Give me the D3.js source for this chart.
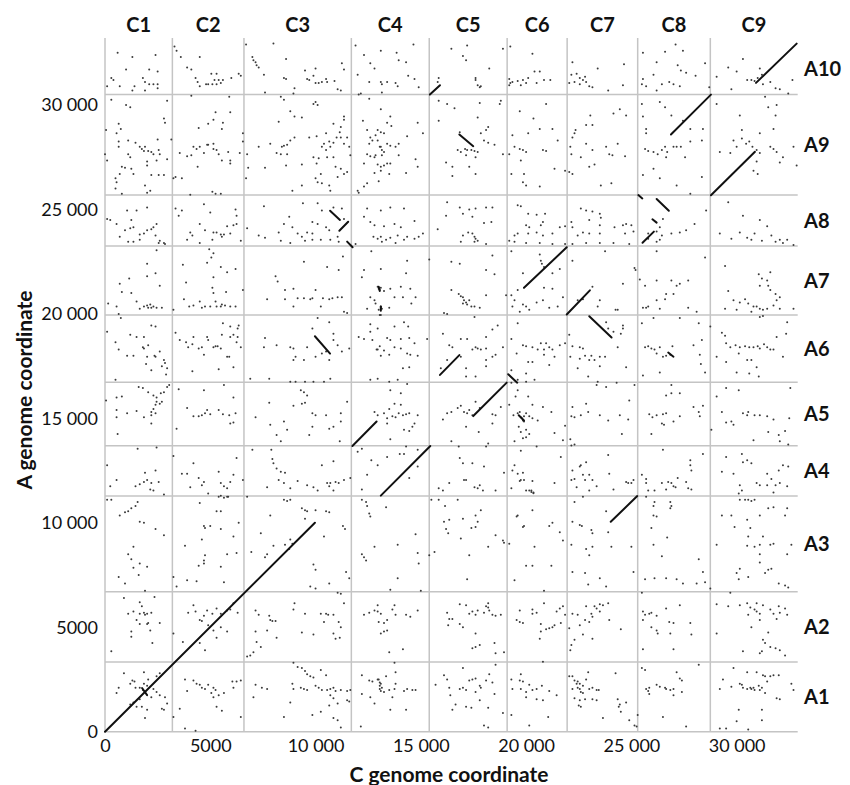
<!DOCTYPE html>
<html><head><meta charset="utf-8">
<script src="https://cdn.jsdelivr.net/npm/d3@7"></script>
<style>html,body{margin:0;padding:0;background:#fff}</style>
</head><body><svg id="chart" width="850" height="785"></svg>
<script>
// ---------------- DATA ----------------
const cChromosomes = ["C1","C2","C3","C4","C5","C6","C7","C8","C9"];
const cBounds = [0,3200,6600,11700,15400,19100,21950,25300,28750,32900];
const aChromosomes = ["A1","A2","A3","A4","A5","A6","A7","A8","A9","A10"];
const aBounds = [0,3340,6700,11280,13690,16730,19950,23250,25690,30510,32970];
const xTickValues = [0,5000,10000,15000,20000,25000,30000];
const xTickLabels = ["0","5000","10 000","15 000","20 000","25 000","30 000"];
const yTickValues = [0,5000,10000,15000,20000,25000,30000];
const yTickLabels = ["0","5000","10 000","15 000","20 000","25 000","30 000"];
const UNIT = 1000; // blocks and dots below are given in thousands of C / A coordinate units

// syntenic blocks: [C start, A start, C end, A end]
const syntenyBlocks = [
 [0,0,9.97,10.0],[1.76,2.09,2.0,1.75],
 [11.75,13.68,12.9,14.85],[13.1,11.3,15.45,13.68],
 [17.49,15.11,19.08,16.71],[19.15,17.11,19.58,16.71],[15.91,17.08,16.83,18.03],
 [23.0,19.89,24.06,18.87],[21.93,19.97,23.03,21.13],[19.9,21.25,21.93,23.19],
 [9.97,18.93,10.69,18.1],
 [10.69,24.94,11.16,24.5],[11.13,23.98,11.55,24.41],[11.5,23.46,11.76,23.19],
 [25.33,25.69,25.52,25.53],[26.2,25.5,26.78,24.94],[26.0,24.53,26.2,24.37],[25.53,23.41,26.07,23.94],
 [15.43,30.5,15.91,30.95],[16.83,28.59,17.49,28.03],
 [26.88,28.59,28.78,30.5],[28.78,25.68,30.87,27.76],[30.92,31.06,32.85,32.94],
 [24.02,10.05,25.28,11.28],
 [26.75,18.15,27.0,17.95],[13.0,21.3,13.05,21.1],[13.1,20.35,13.1,20.15],[19.65,15.15,19.9,14.9]
];

const dotsA10 = [
 [0.6,32.5],[1.3,32.3],[2.4,32.4],[1.0,31.7],[2.1,31.7],[0.3,31.3],[0.4,31.2],[1.8,31.3],[1.9,31.1],[2.1,31.0],[2.3,31.0],[2.5,31.0],[0.7,30.9],[1.4,30.9],[1.3,30.7],[1.9,30.7],[2.5,30.8],[2.5,31.6],[0.1,30.9],
 [3.3,32.8],[3.4,32.6],[3.6,32.3],[4.5,32.3],[3.9,31.8],[4.1,31.7],[4.3,31.3],[4.4,31.1],[4.8,31.0],[4.9,31.0],[5.1,31.0],[5.3,31.0],[5.5,31.05],[5.6,31.2],[6.0,31.3],[6.35,31.5],[6.45,31.4],[5.05,31.5],[5.3,31.5],[4.5,30.9],[5.2,31.2],[5.4,31.2],
 [6.7,32.9],[8.0,32.95],[7.0,32.3],[7.05,32.15],[7.15,32.05],[7.2,31.9],[7.3,31.8],[7.55,31.45],[8.6,32.2],[8.5,31.3],[8.6,31.25],[9.5,31.65],[10.0,31.75],[9.6,31.25],[9.7,31.2],[9.9,31.4],[10.0,31.05],[10.15,31.05],[10.3,31.1],[10.5,31.25],[10.55,31.1],[10.9,31.15],[11.25,32.0],[11.35,31.7],[11.05,30.75],[11.2,30.7],[9.0,30.8],[7.6,30.6],
 [11.9,32.85],[12.3,32.4],[13.1,32.6],[13.85,32.5],[14.65,32.9],[12.6,32.0],[12.8,31.75],[14.3,32.05],[12.0,31.45],[14.4,31.4],[14.7,31.25],[12.55,31.1],[13.1,31.1],[13.15,31.0],[13.4,31.1],[13.8,31.05],[13.9,30.9],[14.9,30.85],[13.15,30.6],[12.15,30.55],[13.95,32.15],
 [16.45,32.7],[17.2,32.85],[17.0,32.35],[17.15,32.15],[18.9,32.7],[18.25,31.75],[15.85,31.3],[15.8,31.1],[17.6,31.3],[17.7,30.95],[17.8,30.85],[17.85,30.9],[17.6,31.2],
 [19.25,32.8],[20.3,32.45],[19.2,31.25],[19.25,31.05],[19.2,30.95],[19.35,31.1],[19.6,31.15],[19.85,31.2],[20.1,31.3],[20.0,31.05],[20.4,31.6],[20.65,31.6],[20.85,31.2],[21.15,31.2],[19.75,30.95],[20.5,31.05],
 [22.2,32.05],[23.4,31.75],[24.65,31.95],[22.15,31.45],[22.4,31.5],[22.55,31.3],[22.7,31.2],[22.85,31.1],[23.0,30.9],[23.15,30.85],[22.3,31.1],[22.55,31.0],[22.8,31.35],[23.9,30.7],[24.6,30.95],[22.05,31.05],
 [25.55,32.5],[26.2,32.05],[26.6,32.55],[27.1,32.9],[27.45,32.6],[27.2,31.9],[27.35,31.65],[27.6,31.55],[28.5,32.0],[25.55,31.25],[25.5,31.0],[25.7,30.9],[26.05,31.45],[26.8,31.1],[27.0,31.0],[27.3,30.9],[28.05,31.4],[28.7,30.85],[26.45,31.0],[26.2,30.7],
 [29.6,31.8],[30.3,32.2],[30.0,31.6],[30.5,31.2],[30.7,31.2],[30.85,31.15],[31.0,31.3],[31.1,31.75],[31.25,31.0],[31.6,31.1],[31.85,30.8],[32.05,30.75],[32.45,30.55],[32.65,31.2],[29.75,30.75],[29.05,31.35],[31.2,31.45]
];
const dotsA9 = [
 [0.3,30.25],[1.0,30.0],[1.2,29.9],[2.95,30.2],[2.8,29.35],[2.85,29.15],[0.65,29.1],[0.75,28.85],[0.05,28.8],[0.55,28.65],[0.0,27.65],[0.1,27.35],[0.65,28.25],[0.65,28.0],[1.1,28.3],[1.45,28.2],[1.65,28.0],[1.75,27.9],[1.85,27.8],[1.9,28.0],[2.05,27.8],[2.2,27.75],[2.3,27.65],[2.55,27.85],[2.6,27.65],[1.1,27.65],[1.2,27.5],[2.0,27.3],[2.45,27.35],[2.95,27.4],[2.5,28.35],[3.15,28.35],[0.8,27.05],[0.95,27.0],[1.25,26.95],[1.35,26.7],[2.0,27.1],[2.2,26.65],[2.55,26.65],[2.8,26.65],[0.5,26.5],[0.55,26.3],[0.7,26.7],[0.5,26.0],[0.8,25.75],[1.9,26.15],[2.0,25.8],[2.15,25.9],
 [4.1,30.45],[4.45,28.9],[4.9,29.1],[5.15,29.3],[5.25,29.65],[5.95,29.65],[5.6,29.15],[5.55,28.85],[5.9,30.4],[6.55,28.65],[3.55,27.7],[3.9,27.55],[4.1,27.6],[4.2,28.0],[4.35,27.9],[4.5,28.0],[4.7,27.7],[4.9,28.1],[5.15,28.15],[5.15,27.9],[5.3,27.85],[5.4,27.65],[5.55,27.35],[5.95,27.35],[5.95,27.2],[5.85,27.75],[6.4,27.7],[4.4,27.05],[3.35,26.55],[3.65,26.5],[3.25,26.5],[4.05,25.7],[5.1,25.85],[5.25,25.75],[5.5,25.75],[6.55,28.25],[4.85,28.1],
 [8.35,30.4],[8.5,30.25],[8.95,30.55],[10.0,30.15],[10.1,30.0],[9.9,30.05],[8.8,29.7],[9.0,29.45],[9.35,29.4],[8.25,29.2],[11.35,29.45],[11.35,29.3],[11.2,28.95],[11.15,28.7],[10.85,29.1],[10.5,28.65],[9.7,28.45],[10.05,28.5],[9.0,28.45],[8.8,28.3],[8.65,28.1],[8.5,28.05],[8.4,28.0],[8.15,27.7],[8.35,27.65],[8.65,27.65],[7.85,28.15],[7.3,28.0],[7.6,27.0],[8.6,27.1],[9.35,27.15],[10.4,28.15],[10.65,28.25],[10.7,28.0],[10.85,28.2],[11.0,28.45],[11.2,28.45],[11.35,28.15],[11.5,28.45],[11.6,28.0],[11.65,27.6],[10.3,28.0],[10.5,27.85],[9.9,27.5],[10.05,27.2],[10.15,27.45],[10.55,27.5],[10.85,27.5],[10.95,27.05],[11.2,26.95],[11.35,26.7],[11.5,26.8],[11.05,26.55],[10.25,26.7],[10.0,26.5],[10.1,26.3],[10.3,26.25],[10.65,26.15],[10.7,25.9],[8.9,25.9],[9.35,26.15],[6.75,27.65],[6.8,27.0],[6.7,26.5],
 [12.05,30.5],[12.55,30.3],[13.1,29.8],[12.25,29.25],[13.55,29.45],[13.4,29.15],[13.6,29.0],[12.45,28.8],[12.95,28.8],[13.1,28.7],[13.25,28.65],[12.85,28.55],[12.6,28.45],[12.7,28.3],[12.55,28.15],[12.95,28.3],[13.1,28.0],[13.15,27.85],[13.25,27.75],[13.4,28.15],[13.55,28.05],[13.8,28.0],[13.95,28.15],[14.35,28.5],[14.85,29.15],[15.1,28.65],[12.3,27.2],[12.45,27.65],[12.6,27.55],[12.8,27.5],[12.95,27.15],[13.1,27.05],[13.25,27.1],[13.4,27.2],[13.55,27.2],[13.1,26.85],[13.5,26.7],[12.8,26.75],[13.95,27.6],[14.3,26.75],[14.75,27.4],[14.85,27.05],[12.45,26.25],[12.3,26.1],[12.05,25.8],[12.0,25.9],[13.0,26.35],[13.05,28.0],[13.15,27.6],[12.85,27.6],
 [15.85,30.2],[16.25,30.05],[16.6,29.85],[17.8,30.1],[18.8,30.2],[18.75,30.05],[15.85,29.25],[17.7,29.4],[18.2,28.95],[18.1,28.8],[17.85,28.65],[16.85,28.7],[16.75,27.85],[16.9,27.75],[17.1,27.9],[17.2,27.85],[17.4,27.85],[17.55,27.8],[17.7,27.75],[17.15,27.6],[17.6,27.5],[18.2,28.2],[18.5,28.1],[18.9,27.65],[18.0,28.3],[16.2,27.25],[16.5,27.05],[17.3,27.05],[17.6,26.7],[16.5,26.6],
 [19.7,29.7],[20.35,29.35],[20.95,30.05],[20.1,28.65],[20.65,28.85],[21.25,28.85],[19.45,28.0],[19.7,27.9],[19.85,27.85],[20.0,27.75],[20.8,27.85],[20.95,27.8],[21.5,28.3],[19.2,27.65],[19.75,27.35],[19.9,26.7],[19.85,26.3],[20.0,26.15],[20.65,26.1],[21.35,26.95],[21.85,26.85],[19.3,26.7],[19.35,28.55],
 [24.45,29.8],[24.75,29.5],[24.15,29.6],[23.05,29.5],[22.85,29.05],[23.15,29.05],[22.35,28.8],[22.3,28.65],[22.2,28.45],[22.1,28.0],[22.15,27.65],[22.85,28.15],[23.15,27.85],[22.6,27.5],[23.8,28.0],[23.95,27.65],[24.1,27.6],[24.35,28.15],[24.7,27.55],[23.25,27.15],[23.55,26.15],[24.05,26.25],[22.2,26.7],[22.05,26.8],[23.0,27.05],
 [25.5,30.05],[26.35,30.15],[26.6,29.9],[25.55,29.45],[26.9,29.5],[27.45,29.25],[27.8,28.85],[25.7,28.85],[25.7,28.65],[25.65,27.9],[25.8,27.8],[26.05,27.75],[26.25,27.65],[26.45,27.85],[26.6,28.0],[26.7,27.75],[27.0,28.0],[27.15,28.0],[27.35,28.0],[27.8,28.25],[28.35,28.3],[28.4,28.85],[27.55,27.5],[26.05,26.95],[25.55,26.65],[26.35,26.5],[26.65,27.5],[27.15,26.15],[28.35,26.55],[27.8,25.75],
 [29.05,30.05],[31.35,30.4],[31.5,29.9],[31.9,30.0],[31.85,29.5],[30.15,29.5],[30.25,28.8],[31.1,28.65],[31.75,28.85],[29.85,28.3],[30.0,28.0],[30.25,28.4],[30.45,28.15],[30.6,28.25],[30.75,28.0],[30.95,27.85],[31.1,27.7],[31.6,28.0],[31.75,27.9],[31.9,27.75],[32.7,28.0],[30.95,27.3],[31.0,26.7],[30.8,26.85],[32.05,27.25],[32.85,27.1],[29.7,27.7],[29.2,27.75],[32.2,27.5]
];
const dotsA8 = [
 [0.1,24.55],[0.25,24.5],[0.55,24.3],[1.05,24.95],[1.5,24.95],[1.25,24.5],[0.95,24.0],[1.2,24.1],[1.35,24.15],[1.65,23.8],[1.85,23.85],[2.0,24.0],[2.2,24.05],[2.3,24.15],[2.45,24.3],[2.4,23.75],[2.6,23.5],[2.8,23.4],[2.0,25.1],[0.7,23.7],[1.1,23.45],[1.35,23.45],[1.65,23.55],[2.55,23.4],[2.85,23.35],
 [3.35,25.05],[3.5,24.7],[4.7,25.25],[5.0,24.85],[6.2,25.0],[6.25,24.7],[4.5,24.3],[4.05,23.9],[4.15,23.75],[3.9,23.55],[4.5,23.4],[5.1,23.55],[5.5,23.8],[5.55,23.7],[5.8,24.2],[5.95,23.85],[6.1,24.25],[6.25,24.3],[5.15,23.9],[5.3,23.9],[5.65,23.8],[4.75,24.0],[3.65,24.95],[6.45,23.5],
 [6.75,24.1],[7.55,25.15],[9.4,25.3],[10.1,25.3],[9.85,24.4],[8.75,24.65],[7.3,23.75],[7.6,23.65],[8.25,23.9],[8.35,23.5],[8.5,24.3],[8.9,24.15],[9.15,23.85],[9.35,23.7],[9.6,23.9],[9.85,23.85],[10.1,24.3],[10.5,24.15],[10.65,24.0],[10.3,24.95],[10.85,25.1],[11.25,25.05],[11.35,24.55],[9.85,23.55],[10.25,23.55],[10.7,23.55],[11.05,23.7],[11.1,23.45],[9.5,23.5],[8.8,23.4],
 [11.9,23.35],[12.3,24.65],[12.45,25.05],[13.1,24.95],[13.55,25.1],[14.2,25.05],[14.7,24.45],[12.6,24.4],[12.8,24.25],[13.25,24.2],[13.75,24.3],[14.05,24.15],[12.75,23.7],[12.95,23.6],[13.1,23.7],[13.35,23.55],[13.55,23.65],[13.9,23.75],[14.2,23.55],[14.35,23.7],[14.7,23.6],[14.9,23.7],[15.1,23.85],[13.15,23.45],[13.8,23.4],
 [16.25,25.35],[16.85,25.1],[17.3,25.0],[17.6,25.05],[18.1,25.1],[18.4,25.1],[16.2,24.7],[17.0,24.8],[17.45,24.65],[18.0,24.35],[18.35,24.4],[15.8,24.05],[17.0,23.75],[17.45,23.85],[17.55,23.7],[17.6,23.6],[17.7,23.5],[18.1,23.35],[17.25,23.9],[17.55,23.45],[16.9,23.45],
 [19.6,25.2],[19.75,25.15],[20.1,24.8],[20.5,24.75],[20.9,24.8],[20.8,24.4],[20.7,24.25],[20.0,24.25],[20.15,24.15],[19.45,23.75],[19.6,23.85],[20.1,23.85],[20.5,23.9],[20.8,23.75],[21.25,23.85],[21.6,24.15],[21.85,24.2],[19.2,23.5],[19.45,23.45],[20.0,23.4],[20.65,23.4],[21.25,23.35],[21.85,23.35],
 [22.6,25.05],[22.85,24.95],[23.15,24.9],[23.5,24.8],[23.55,24.6],[22.15,24.4],[22.2,24.15],[23.0,24.5],[23.5,24.25],[24.2,24.15],[24.6,24.25],[24.75,24.3],[25.0,24.25],[22.45,23.75],[22.7,23.9],[23.0,23.85],[23.5,23.85],[24.7,23.85],[25.1,23.95],[22.2,23.35],[22.85,23.4],[23.5,23.4],[24.15,23.4],[24.9,23.35],
 [26.5,24.55],[26.35,24.15],[27.3,23.9],[27.6,24.0],[28.0,24.3],[26.45,23.75],[26.35,23.55],[26.9,23.85],[25.8,23.85],[26.2,23.95],[28.55,24.95],[25.8,23.6],[26.2,23.45],
 [29.6,25.35],[31.1,24.5],[31.45,24.2],[30.3,24.7],[29.2,23.85],[29.75,23.6],[30.15,23.9],[30.5,23.65],[30.7,23.55],[30.85,23.85],[31.2,23.5],[31.65,23.75],[31.85,23.45],[32.2,23.4],[32.4,23.55],[32.7,23.3],[32.05,23.55]
];
const dotsA7 = [
 [2.0,22.4],[2.45,23.05],[2.0,21.8],[2.4,21.95],[1.15,21.7],[0.7,21.45],[0.8,21.05],[1.25,21.0],[2.6,21.35],[1.5,20.6],[0.55,20.35],[1.65,20.25],[1.85,20.35],[2.0,20.4],[2.15,20.45],[2.3,20.35],[2.45,20.3],[2.7,20.3],[2.05,20.3],[2.2,20.3],[0.15,20.5],[0.65,20.0],
 [4.95,23.1],[5.15,22.9],[5.05,22.7],[4.85,22.45],[3.7,22.35],[5.5,22.25],[5.8,22.0],[6.2,22.15],[5.15,21.75],[3.85,21.5],[5.1,21.25],[5.75,21.05],[6.55,21.15],[3.75,20.7],[4.5,20.6],[5.25,20.6],[4.0,20.35],[4.2,20.4],[4.6,20.3],[4.75,20.35],[5.0,20.35],[5.3,20.35],[5.5,20.35],[5.55,20.45],[5.7,20.4],[5.95,20.35],[6.2,20.35],[3.25,20.2],[5.15,21.0],
 [9.45,22.5],[8.1,21.8],[8.2,21.55],[8.55,21.15],[8.95,21.2],[10.0,21.15],[7.7,20.7],[8.55,20.7],[8.95,20.35],[9.15,20.75],[9.45,20.75],[9.75,20.7],[9.85,20.75],[10.35,20.75],[10.65,20.7],[10.8,20.75],[11.05,20.8],[11.25,20.8],[10.55,22.25],[11.1,22.1],[11.3,22.75],[10.25,20.35],[11.35,20.1],[11.5,20.05],
 [12.3,22.1],[13.1,22.15],[12.65,23.0],[12.2,21.75],[12.95,21.3],[13.0,21.2],[13.1,21.25],[13.05,21.15],[13.25,21.1],[13.55,21.2],[14.05,21.3],[14.3,21.95],[14.5,21.2],[14.55,20.5],[14.15,20.8],[12.8,20.65],[12.85,20.5],[13.1,20.35],[13.15,20.25],[13.0,20.2],[13.1,20.3],[12.45,20.25],[13.5,20.3],[13.75,20.8],[14.75,20.8],[14.35,22.55],[13.1,19.95],[12.6,20.8],
 [15.4,22.6],[16.45,22.5],[16.85,22.4],[18.4,22.8],[18.5,21.9],[18.1,22.1],[16.45,21.15],[16.8,20.95],[16.9,20.85],[17.0,20.8],[17.05,20.65],[17.15,20.55],[17.2,20.45],[17.4,20.35],[17.55,20.35],[17.8,20.3],[18.1,20.9],[17.0,20.5],[17.3,20.65],[16.1,20.05],[16.25,20.0],[19.05,20.9],
 [19.3,23.0],[20.65,22.85],[20.75,22.4],[20.85,22.25],[20.7,22.55],[19.85,21.95],[21.25,21.95],[21.6,22.15],[20.85,21.25],[21.25,21.2],[19.6,21.15],[19.3,20.9],[19.45,20.65],[19.35,20.35],[19.85,20.45],[20.0,20.35],[20.15,20.2],[20.5,20.55],[20.8,20.65],[21.1,20.3],[21.5,20.35],[21.75,20.8],[19.7,20.1],
 [22.2,22.55],[23.75,23.0],[25.2,22.1],[25.15,22.2],[24.6,21.45],[23.15,21.3],[23.5,20.65],[24.25,20.2],[24.35,20.2],[22.45,20.65],[22.7,20.7],[23.4,20.35],
 [26.2,23.0],[28.5,22.7],[26.2,21.6],[26.9,21.6],[27.15,21.35],[27.3,21.45],[27.7,21.6],[26.65,20.95],[27.0,20.95],[25.65,21.35],[26.2,20.65],[26.6,20.7],[25.55,20.3],[25.7,20.3],[25.8,20.35],[26.35,20.25],[27.7,20.3],[28.1,20.1],[25.4,21.65],
 [29.45,22.3],[31.05,21.9],[31.6,22.0],[31.2,21.7],[31.45,21.6],[31.5,21.35],[31.6,21.15],[31.1,21.35],[29.6,21.1],[29.85,20.65],[30.15,20.55],[30.4,20.7],[30.55,20.5],[30.8,20.35],[30.95,20.35],[31.1,20.25],[31.25,20.2],[31.45,20.25],[31.75,20.4],[31.9,20.65],[32.05,20.25],[32.7,20.25],[29.45,20.25],[30.0,20.2],[30.7,20.1],[31.85,20.95],[32.05,20.8]
];
const dotsA6 = [
 [0.75,19.8],[0.1,19.15],[0.5,18.65],[0.65,18.3],[1.2,19.0],[1.5,18.9],[1.85,18.9],[1.8,18.4],[1.85,18.35],[2.2,19.45],[2.4,19.4],[2.05,18.5],[1.05,18.0],[1.35,18.0],[2.0,17.95],[2.35,18.0],[2.4,17.95],[2.6,18.2],[2.8,17.8],[1.95,17.6],[2.85,17.65],[2.95,17.4],[2.7,17.5],[2.2,17.3],[2.9,17.1],[0.5,16.85],
 [3.35,19.1],[3.55,18.75],[3.85,18.65],[4.2,18.9],[4.15,18.55],[4.6,18.4],[4.85,18.9],[4.9,18.75],[5.15,18.4],[5.25,18.45],[5.35,18.45],[5.5,18.35],[5.55,19.0],[5.6,19.55],[5.95,19.4],[6.3,19.3],[6.35,19.45],[6.3,18.9],[6.25,18.65],[6.45,18.4],[5.95,18.9],[6.1,19.0],[5.8,17.95],[5.9,17.95],[4.7,18.05],[4.15,17.25],[5.4,17.35],[6.1,17.45],[4.45,18.35],[3.95,18.4],
 [7.6,18.85],[7.55,18.4],[8.15,18.5],[8.8,18.4],[8.95,18.35],[9.05,17.95],[9.6,18.4],[9.85,19.3],[10.1,19.8],[10.65,19.6],[10.85,19.05],[10.85,18.75],[11.05,18.5],[11.6,18.35],[8.8,16.75],[9.05,16.75],[9.5,16.75],[9.9,16.75],[10.4,16.75],[10.7,16.9],[10.0,17.95],[10.65,17.8],[10.3,18.1],[10.5,18.2],[9.45,17.8],[11.25,18.2],[6.9,16.9],[7.8,16.9],[8.95,17.8],
 [12.6,19.5],[13.05,19.95],[12.95,19.3],[13.75,19.4],[14.2,19.6],[14.4,19.4],[12.05,18.9],[12.3,18.8],[12.6,19.15],[12.7,18.75],[13.4,18.85],[13.55,18.75],[14.05,18.8],[14.45,18.85],[12.95,18.3],[13.25,18.25],[13.5,18.05],[13.75,18.4],[14.05,18.35],[14.35,18.1],[14.5,18.05],[12.9,18.3],[13.05,18.45],[13.1,18.0],[14.15,17.4],[14.45,17.45],[12.95,16.9],[12.6,16.85],[13.5,16.75],[14.7,18.6],[13.9,16.85],[14.85,18.0],
 [17.55,19.85],[18.65,19.45],[18.1,18.9],[18.4,19.25],[16.35,18.5],[16.5,18.4],[16.9,18.8],[17.2,18.8],[17.6,18.4],[17.45,18.3],[17.7,18.35],[17.85,18.3],[18.1,18.35],[18.4,17.95],[18.55,18.05],[16.05,19.05],[16.9,17.95],[18.1,17.8],[18.1,17.5],[17.15,17.4],[16.25,17.8],[15.95,17.4],[17.15,17.0],[17.6,17.0],[18.9,18.4],[15.3,18.8],
 [19.6,19.55],[19.3,18.8],[19.85,18.5],[20.0,18.45],[20.3,18.4],[20.7,18.6],[20.95,18.6],[21.1,18.4],[20.55,18.3],[20.85,18.3],[21.25,18.3],[21.6,18.5],[21.85,18.6],[19.55,18.1],[20.1,17.7],[20.3,17.7],[20.85,18.05],[21.35,17.95],[21.1,17.55],[20.0,17.15],[19.3,17.3],[19.6,16.85],[20.0,16.75],[20.4,16.85],
 [22.05,19.0],[22.2,18.45],[22.55,18.4],[22.7,18.35],[22.1,17.95],[22.8,18.0],[22.55,17.85],[23.0,17.8],[23.25,17.8],[23.1,18.0],[23.5,17.95],[23.75,17.95],[22.45,17.4],[22.95,17.0],[23.5,17.5],[24.35,18.4],[24.6,19.45],[24.6,19.3],[24.5,19.05],[24.15,19.15],[24.75,17.45],[23.4,16.75],[23.8,19.6],[23.9,19.3],
 [25.5,19.55],[26.05,19.8],[27.3,19.8],[28.2,19.55],[28.75,19.4],[25.65,18.4],[25.8,18.45],[25.95,18.35],[26.1,18.3],[26.2,18.1],[26.35,18.4],[26.5,17.95],[26.65,18.0],[26.95,18.45],[26.85,18.05],[27.95,18.5],[28.35,18.75],[28.25,18.05],[28.3,17.6],[28.5,17.2],[25.55,17.05],[26.35,17.2],
 [29.3,19.1],[29.45,18.95],[29.5,18.6],[29.7,18.4],[29.95,18.5],[30.15,18.4],[30.4,18.45],[30.6,18.4],[30.8,18.4],[31.0,18.45],[31.1,18.35],[31.3,18.55],[31.45,18.4],[31.6,18.3],[31.75,18.3],[31.9,18.9],[32.4,19.6],[32.35,19.05],[29.05,17.95],[29.5,17.7],[30.1,18.1],[30.5,17.8],[30.7,17.8],[30.95,17.45],[32.2,17.95],[30.0,17.2],[30.6,17.15],[31.05,17.0],[31.1,19.85],[31.25,19.9]
];
const dotsA5 = [
 [3.05,16.6],[2.95,16.5],[2.8,16.25],[2.65,16.2],[2.45,16.0],[2.3,16.1],[2.05,16.25],[1.6,16.5],[1.8,16.45],[0.8,16.05],[0.55,16.0],[2.45,15.8],[2.4,15.65],[2.3,15.45],[2.2,15.3],[2.2,15.15],[2.4,15.25],[0.55,15.4],[0.55,15.05],[1.05,15.25],[1.5,15.35],[1.85,15.05],[2.2,14.75],[0.6,14.25],[2.6,15.7],[2.7,15.8],[0.05,15.85],
 [3.9,15.5],[4.2,15.1],[4.45,15.1],[4.6,15.15],[4.75,15.25],[4.85,15.4],[5.0,15.2],[5.4,15.4],[5.6,15.2],[5.9,15.15],[5.95,14.75],[6.1,14.8],[3.4,14.5],[6.2,15.25],[4.7,16.35],[5.65,16.6],[6.1,16.0],[3.5,16.4],
 [7.15,15.05],[7.8,15.75],[7.85,14.7],[8.15,14.2],[8.35,13.9],[8.5,14.85],[8.65,14.45],[8.95,15.6],[9.35,15.7],[9.5,15.75],[9.85,15.25],[9.85,14.6],[10.0,15.15],[10.5,15.15],[10.65,14.5],[10.85,14.6],[11.2,15.25],[11.2,14.85],[9.7,14.2],[11.15,13.9],[11.5,15.8],[9.3,16.35],[9.45,16.25],[9.6,16.1],
 [12.8,15.3],[12.95,15.15],[13.25,15.25],[13.4,15.0],[13.65,15.1],[13.8,15.05],[13.95,15.25],[14.15,15.15],[14.3,15.2],[14.45,15.25],[14.7,14.75],[14.2,14.45],[14.45,14.4],[13.55,14.0],[14.85,15.15],[13.4,14.75],[13.75,15.7],[14.05,15.65],[13.5,15.45],[14.6,14.6],[13.55,16.35],[14.35,16.65],[14.05,16.2],
 [16.05,14.95],[16.25,15.25],[16.45,15.3],[16.75,15.5],[16.9,15.6],[17.05,15.3],[17.2,15.25],[17.3,15.4],[17.45,15.15],[17.8,15.5],[18.4,15.2],[18.55,15.15],[18.4,14.75],[17.15,14.6],[17.75,14.35],[16.45,13.9],[18.2,13.8],[17.6,15.8],[18.8,15.55],
 [19.4,15.15],[19.6,15.25],[19.75,15.05],[19.85,14.9],[19.9,14.85],[19.7,15.3],[20.0,15.25],[20.15,15.1],[20.3,15.0],[19.65,14.6],[19.75,14.35],[20.0,14.45],[20.15,14.25],[20.0,14.1],[19.85,14.05],[20.8,15.55],[21.2,15.3],[21.35,14.3],[21.85,14.65],[19.45,13.9],[21.75,13.95],[19.2,15.65],[20.3,15.65],[20.55,14.9],[19.8,15.0],[19.9,15.1],[19.3,16.7],[19.5,16.05],[20.1,16.05],[19.6,16.35],
 [22.2,15.55],[22.15,15.1],[22.3,15.05],[22.6,15.15],[22.95,15.3],[23.5,15.15],[23.9,14.9],[24.45,15.15],[24.85,14.95],[24.55,14.25],[22.1,14.0],[22.15,13.7],[22.3,13.75],[22.85,15.7],[24.9,15.85],[23.35,16.6],[23.8,16.5],[24.3,16.7],[25.15,16.6],
 [25.85,15.2],[26.0,15.05],[26.2,15.15],[26.5,15.2],[26.65,15.25],[26.45,14.75],[26.55,14.7],[27.0,14.85],[27.3,15.1],[27.95,15.55],[28.2,15.3],[28.25,15.1],[25.95,14.25],[28.4,15.6],[26.9,16.6],[27.3,16.2],[26.9,16.2],[26.65,16.1],
 [29.3,15.3],[29.5,14.8],[29.75,14.85],[29.85,14.7],[30.3,15.25],[30.5,15.15],[30.55,15.3],[30.85,15.15],[31.1,15.15],[31.45,15.1],[31.75,14.95],[31.5,14.35],[32.0,14.2],[32.05,13.9],[32.3,14.4],[32.45,13.75],[32.5,15.0],[30.8,13.95],[28.8,14.45],[29.5,16.45],[30.1,16.35],[32.55,16.45],[29.05,16.05]
];
const dotsA4 = [
 [0.1,12.75],[0.55,12.05],[1.55,13.55],[2.45,13.6],[1.9,12.4],[2.4,12.5],[1.45,11.75],[1.65,11.85],[1.85,11.95],[2.0,12.05],[2.15,11.6],[2.3,11.55],[2.55,11.95],[2.8,11.35],[2.2,11.9],[0.25,11.75],
 [3.25,13.2],[3.65,12.35],[3.9,12.35],[4.2,12.85],[4.45,12.15],[4.7,11.95],[4.6,11.8],[5.4,12.45],[5.5,11.9],[5.65,11.75],[5.8,11.65],[5.95,11.95],[6.1,12.3],[6.25,13.1],[6.55,12.05],[4.05,11.7],[4.9,11.4],[5.5,11.3],[5.85,11.25],
 [7.0,13.5],[7.9,13.5],[7.95,13.05],[8.0,12.85],[8.15,12.6],[8.35,12.45],[8.55,12.4],[8.25,12.05],[8.5,11.9],[7.7,11.7],[9.15,12.0],[9.6,11.8],[9.9,11.7],[10.3,12.75],[10.85,12.95],[10.55,11.9],[10.65,11.75],[10.7,11.9],[10.95,11.95],[11.1,11.9],[11.35,12.05],[11.65,12.15],[8.8,11.65],[10.85,11.55],[6.75,11.25],[10.1,11.55],
 [12.0,13.4],[12.2,13.55],[12.65,13.0],[12.95,12.75],[13.4,13.15],[14.0,13.3],[14.3,13.65],[14.85,13.5],[12.45,12.3],[12.2,11.6],[14.85,12.7],[14.45,12.15],[14.2,13.3],
 [16.85,13.1],[17.0,12.85],[17.45,12.85],[18.0,12.7],[17.15,12.05],[17.05,12.05],[17.55,11.7],[17.7,11.65],[17.8,11.8],[17.95,11.55],[18.55,11.55],[16.35,11.9],[15.85,11.65],[16.05,11.55],[18.95,12.4],[18.1,13.65],[16.8,13.65],
 [19.75,13.45],[19.45,12.75],[19.35,12.5],[19.6,12.35],[19.75,12.05],[19.9,12.05],[19.7,12.0],[19.85,12.4],[20.3,12.0],[20.25,11.55],[20.35,11.45],[21.35,11.9],[21.65,13.15],[19.3,11.65],[20.0,11.55],[20.5,13.65],[20.15,11.55],[20.25,11.48],[20.35,11.42],
 [22.2,12.5],[22.3,12.1],[22.55,12.7],[22.6,12.75],[22.85,12.9],[22.7,12.3],[22.8,12.05],[23.0,12.3],[23.15,12.05],[23.35,11.75],[23.9,13.25],[23.95,12.35],[24.15,11.6],[24.75,11.95],[24.85,11.9],[25.0,11.9],[25.1,12.05],[22.15,12.05],[22.4,11.7],[23.0,11.55],
 [25.5,12.3],[25.7,12.1],[25.8,11.55],[26.1,11.55],[26.5,13.5],[26.45,11.9],[26.75,11.95],[26.9,11.9],[27.0,11.75],[27.1,11.7],[27.2,12.15],[27.6,11.95],[27.7,11.65],[27.8,12.75],[27.85,12.5],[27.8,13.0],[28.4,13.3],[26.65,11.6],[27.85,11.6],[25.7,11.9],
 [29.5,13.15],[29.3,12.45],[29.85,12.35],[30.25,13.3],[30.3,12.9],[30.5,13.0],[30.7,12.85],[31.45,12.35],[31.65,12.1],[32.0,12.5],[32.2,12.75],[32.45,12.7],[30.95,11.9],[31.1,11.8],[31.45,11.8],[31.85,11.8],[32.05,11.9],[32.4,11.75],[30.15,11.8],[30.25,11.55],[30.1,11.4],[31.75,11.45]
];
const dotsA3 = [
 [0.1,11.1],[0.3,11.1],[0.7,10.35],[0.95,10.5],[1.1,10.55],[1.25,10.7],[1.45,10.8],[1.55,11.0],[1.65,10.05],[1.85,10.0],[2.4,9.7],[2.8,9.4],[1.35,8.85],[1.1,8.5],[1.25,8.25],[1.35,7.85],[1.65,8.05],[2.0,7.9],[1.6,7.5],[0.65,7.4],[0.95,7.1],[1.9,6.75],
 [4.5,10.95],[5.4,11.25],[5.65,11.2],[5.8,11.25],[5.5,10.55],[5.3,10.55],[4.7,9.85],[4.75,9.75],[5.0,9.85],[4.6,9.2],[5.5,9.7],[6.1,9.35],[6.35,10.0],[3.8,8.9],[4.7,8.2],[4.7,8.05],[4.45,7.95],[4.75,8.45],[5.5,7.9],[5.8,8.5],[6.25,8.55],[3.25,7.4],[3.9,7.25],[4.35,7.2],[5.65,7.15],[3.4,6.95],
 [8.5,11.1],[8.65,11.05],[8.8,11.1],[9.35,10.7],[9.5,10.6],[9.6,10.55],[10.0,10.6],[10.5,10.55],[10.65,10.5],[7.85,10.35],[9.5,10.2],[11.3,9.85],[11.4,9.7],[10.4,9.35],[7.4,9.5],[8.0,8.9],[8.55,8.95],[8.75,8.75],[8.9,9.0],[8.8,9.2],[7.7,8.5],[7.6,8.35],[9.9,8.0],[10.0,7.75],[9.75,6.95],[10.0,6.85],[11.05,6.65],[11.2,6.6],[11.6,7.35],[11.45,7.65],[10.65,7.1],[6.95,8.6],
 [12.2,11.1],[12.4,11.0],[12.45,10.8],[12.55,10.45],[12.6,10.3],[13.35,10.75],[12.8,8.85],[13.9,8.95],[14.75,9.45],[14.85,8.55],[14.9,8.05],[12.2,8.5],[12.3,8.35],[12.4,8.2],[13.9,7.35],[13.55,6.8],[15.0,6.75],
 [15.5,11.1],[15.85,11.1],[16.15,10.8],[16.75,11.1],[16.1,10.05],[16.35,10.15],[16.2,9.7],[16.3,9.5],[17.0,10.2],[17.4,9.75],[17.6,10.35],[17.7,10.05],[17.85,10.6],[17.6,9.8],[16.9,9.25],[18.2,8.85],[18.55,9.4],[18.9,9.15],[18.95,9.05],[17.3,8.45],[17.2,7.3],[15.4,8.45],[15.65,8.6],
 [19.6,10.35],[19.55,10.3],[19.85,9.8],[19.9,9.85],[20.3,10.6],[20.4,8.85],[21.1,9.85],[21.25,10.0],[21.6,9.55],[21.75,9.15],[19.45,7.25],[20.0,7.95],[20.3,7.95],[21.2,7.95],[20.85,6.75],[19.2,9.0],
 [22.3,11.0],[22.2,10.05],[22.55,9.9],[22.65,9.85],[23.1,9.65],[23.15,9.5],[22.85,8.75],[23.0,8.45],[23.15,8.85],[23.9,9.55],[24.05,8.85],[23.8,10.55],[25.0,8.85],[25.1,7.65],[22.2,7.65],[22.8,7.6],[22.95,7.05],[23.5,7.35],[23.8,6.95],[22.15,8.95],[22.7,11.25],
 [25.7,11.25],[26.1,11.0],[26.05,10.8],[26.05,10.35],[26.2,10.3],[26.85,11.0],[26.9,10.8],[26.85,10.7],[25.95,9.75],[26.7,9.3],[26.45,8.4],[26.05,8.95],[28.2,8.25],[28.4,7.65],[25.65,7.3],[26.1,7.35],[26.65,7.35],[27.15,7.3],[27.45,7.1],[28.1,7.1],[28.5,7.15],[28.75,6.85],[25.5,6.65],
 [30.15,11.1],[30.4,11.1],[30.55,11.1],[30.7,11.05],[30.85,11.1],[31.5,10.7],[31.75,10.75],[32.4,10.7],[32.3,10.35],[31.1,10.35],[30.5,10.15],[29.3,10.35],[29.75,10.35],[29.9,9.8],[30.65,9.75],[31.25,9.35],[30.55,9.35],[29.05,8.95],[30.5,8.9],[30.85,8.85],[31.1,8.95],[31.6,8.95],[31.75,9.0],[31.1,8.5],[31.1,8.1],[32.4,8.5],[32.6,8.95],[30.15,7.8],[30.0,7.6],[30.1,7.3],[30.55,7.4],[31.35,7.6],[31.5,7.75],[31.65,7.8],[32.0,7.1],[32.3,7.0],[32.45,6.9],[29.7,6.65]
];
const dotsA2 = [
 [1.1,5.65],[1.35,5.75],[1.65,5.65],[1.85,5.7],[1.9,5.6],[2.0,5.65],[2.2,5.7],[1.5,5.35],[1.65,5.15],[2.0,5.15],[2.05,5.2],[2.6,5.2],[2.15,4.85],[1.25,4.8],[1.25,4.55],[2.25,4.25],[0.3,3.85],[1.65,6.2],[1.75,6.0],[0.9,6.4],[2.35,6.45],
 [3.95,5.7],[4.3,5.75],[4.5,5.35],[4.6,5.3],[4.7,5.55],[4.85,5.8],[5.1,5.65],[5.3,5.9],[5.5,5.65],[5.8,5.8],[5.95,5.85],[6.3,5.7],[4.9,5.1],[5.15,4.85],[5.5,5.0],[5.8,4.8],[5.3,4.5],[4.5,4.25],[4.75,3.9],[3.25,4.7],[3.7,4.3],[6.1,6.15],[4.2,6.05],
 [7.15,5.8],[7.3,5.6],[7.8,5.55],[7.85,5.35],[7.95,5.3],[8.1,5.3],[7.7,4.85],[7.15,4.8],[7.2,4.3],[7.4,4.05],[6.75,3.6],[6.9,3.65],[7.05,3.8],[8.95,5.85],[9.5,5.65],[9.35,4.75],[9.9,4.65],[10.25,5.65],[10.5,5.65],[10.6,5.6],[10.4,5.25],[10.85,5.6],[11.1,5.25],[11.2,5.0],[10.85,4.7],[11.15,4.5],[10.95,4.45],[8.15,4.5],[9.0,6.15],[11.35,6.15],
 [12.3,5.6],[12.55,5.7],[12.8,5.8],[12.95,5.75],[13.1,5.65],[13.0,5.25],[13.25,5.2],[13.4,5.35],[13.65,5.85],[13.8,5.6],[14.3,5.6],[13.1,4.7],[13.25,4.8],[13.4,4.85],[13.5,3.8],[14.15,3.95],[14.5,5.5],[14.85,5.8],[12.95,6.05],[13.75,6.05],
 [16.25,5.7],[16.35,5.4],[16.5,5.4],[16.3,5.1],[16.85,5.15],[17.0,5.0],[17.3,5.65],[17.45,5.75],[17.6,5.6],[17.7,5.8],[18.0,5.7],[18.1,6.0],[18.2,5.95],[18.25,5.8],[18.4,5.6],[18.55,5.55],[18.8,5.6],[17.6,4.7],[17.45,4.0],[17.6,4.05],[17.8,4.15],[18.5,4.25],[18.55,3.75],[18.95,3.8],[18.2,6.15],[16.85,6.1],[17.15,6.05],
 [19.7,5.8],[19.85,5.2],[19.7,5.25],[20.3,5.65],[20.5,5.7],[20.7,5.15],[20.85,6.15],[20.7,4.8],[20.95,4.9],[21.1,4.95],[21.25,5.0],[21.35,5.1],[21.45,5.75],[21.6,5.9],[21.65,5.2],[21.75,6.0],[21.85,5.6],[20.65,4.45],[19.55,5.35],[20.3,5.85],
 [22.2,5.65],[22.45,5.6],[22.55,5.1],[22.8,5.35],[23.0,5.25],[23.1,5.65],[23.25,6.0],[23.35,5.9],[23.5,6.1],[23.65,6.05],[23.9,6.15],[23.15,5.5],[22.7,4.65],[22.3,4.4],[22.15,4.15],[22.1,3.9],[23.95,5.35],[24.5,4.9],[22.85,6.0],[23.5,5.75],[22.05,4.95],[23.15,4.45],
 [25.55,5.75],[25.65,5.6],[25.85,5.65],[25.95,5.7],[26.2,5.55],[25.55,5.35],[25.95,5.0],[26.2,4.85],[26.25,4.7],[26.8,5.25],[27.0,5.2],[26.85,4.7],[27.8,5.2],[27.85,4.65],[27.0,3.95],[25.55,3.95],[26.65,5.9],[27.3,6.05],
 [29.05,6.1],[29.6,6.0],[30.15,6.05],[30.5,6.15],[30.65,5.95],[30.85,5.85],[30.95,5.75],[31.1,5.65],[31.25,6.05],[31.6,5.85],[31.75,5.65],[32.0,6.0],[32.05,5.7],[32.4,5.6],[32.3,5.9],[31.9,5.4],[30.7,5.0],[31.1,5.35],[31.5,4.75],[31.25,4.4],[31.35,4.25],[31.6,4.05],[31.85,4.0],[32.05,3.9],[32.3,3.65],[30.3,3.85],[31.1,3.75],[31.2,3.85],[29.05,4.7],[30.95,6.15],[30.55,5.6]
];
const dotsA1 = [
 [0.9,2.8],[1.3,2.45],[1.4,2.4],[1.2,2.3],[1.45,2.1],[1.65,2.1],[1.8,2.0],[2.0,2.2],[2.05,2.5],[2.3,2.05],[2.45,1.9],[2.6,1.75],[2.45,2.65],[2.6,2.8],[1.65,1.55],[1.35,1.4],[1.2,1.3],[1.5,1.2],[1.75,1.2],[2.0,1.05],[2.7,1.1],[2.8,1.05],[0.55,1.85],[0.65,2.1],[2.85,1.65],[1.9,0.65],[2.95,1.35],[2.2,1.65],[1.85,2.85],[1.85,2.3],
 [3.8,2.5],[3.9,1.95],[4.2,2.45],[4.35,2.3],[4.5,2.25],[4.6,2.1],[4.75,2.05],[4.9,2.25],[5.15,2.1],[5.25,2.0],[5.05,1.85],[5.15,1.65],[5.4,1.75],[5.65,1.85],[6.1,2.1],[6.25,2.4],[6.45,2.45],[5.3,1.2],[5.55,1.0],[3.25,0.7],[3.55,1.1],[3.8,0.15],[4.3,0.05],[6.45,0.7],[6.05,2.4],
 [7.15,2.25],[7.45,2.1],[7.7,2.05],[7.05,1.65],[8.95,3.3],[9.15,3.1],[9.35,3.05],[9.5,2.9],[9.6,2.75],[9.75,2.65],[9.9,2.6],[10.25,2.95],[10.5,2.7],[8.9,2.3],[8.95,2.05],[9.3,2.1],[9.45,2.05],[9.6,2.0],[10.0,2.2],[10.15,2.1],[10.3,2.0],[10.55,2.0],[10.7,2.05],[10.85,2.1],[10.95,1.95],[11.2,2.0],[11.5,1.95],[11.65,2.0],[10.7,1.75],[10.85,1.6],[11.05,1.35],[10.65,1.25],[11.5,1.5],[11.6,1.45],[8.8,1.4],[9.85,0.8],[10.25,0.95],[10.85,0.65],[11.2,0.2],[8.5,0.7],[11.05,0.55],
 [12.2,2.7],[12.55,2.45],[12.7,2.4],[12.95,2.5],[13.1,2.3],[13.05,2.05],[13.1,1.95],[13.15,2.1],[13.25,1.9],[13.5,2.0],[13.75,2.05],[13.65,1.65],[13.8,2.3],[13.8,2.85],[13.75,3.3],[14.2,1.95],[14.35,2.05],[14.6,2.0],[14.75,2.0],[12.2,1.8],[12.6,1.65],[12.8,1.35],[13.55,1.05],[14.3,1.05],[12.15,0.25],[13.0,2.5],[13.35,2.65],[13.05,2.2],[13.05,2.35],
 [16.1,2.7],[16.25,2.5],[16.35,2.1],[16.4,1.75],[16.65,1.3],[16.85,2.05],[17.0,2.1],[17.15,2.0],[17.3,2.45],[17.45,2.5],[17.6,2.55],[17.8,2.2],[17.85,2.1],[18.1,2.45],[18.25,2.75],[18.4,2.35],[18.55,3.2],[18.5,1.8],[17.6,1.9],[17.15,1.2],[17.4,1.15],[17.8,1.5],[18.2,1.15],[18.0,0.3],[18.2,0.2],[18.9,0.9],[15.7,2.25],[16.5,1.05],[17.0,3.05],
 [19.3,2.5],[19.35,2.05],[19.7,2.45],[19.85,2.4],[19.75,2.05],[20.0,1.9],[20.15,2.25],[20.3,2.0],[20.5,2.05],[20.75,2.2],[21.1,1.95],[20.0,1.65],[20.5,1.55],[20.8,1.5],[21.45,1.75],[21.05,0.7],[20.15,0.3],[19.3,0.8],[20.8,3.35],[19.75,2.75],
 [22.2,2.65],[22.3,2.45],[22.4,2.3],[22.45,2.1],[22.55,2.05],[22.6,1.9],[22.7,1.85],[22.45,2.4],[22.55,2.3],[22.7,2.2],[22.85,2.5],[23.0,2.05],[23.15,2.1],[23.35,2.0],[23.45,2.0],[22.2,2.05],[22.3,1.6],[22.55,1.5],[22.8,1.55],[23.15,1.55],[23.35,1.5],[22.5,1.25],[22.6,1.2],[24.25,2.8],[24.35,1.55],[24.45,1.3],[24.4,1.2],[24.5,0.95],[24.75,1.4],[24.9,0.55],[25.15,0.3],[25.25,0.25],[23.65,0.65],[22.95,2.85],[22.05,2.65],[25.3,0.8],
 [25.5,3.05],[25.65,2.95],[25.7,2.05],[25.85,2.1],[25.8,1.95],[26.2,2.25],[26.35,2.15],[26.6,2.1],[26.65,2.05],[26.85,2.0],[27.0,2.05],[27.4,1.9],[27.3,2.55],[27.4,2.45],[27.15,2.85],[27.0,1.75],[26.5,0.7],[27.6,0.25],[28.2,3.2],[25.85,1.8],
 [29.35,2.5],[29.75,2.15],[29.85,3.05],[30.15,2.3],[30.25,2.25],[30.3,2.1],[30.5,2.05],[30.65,2.1],[30.7,2.05],[30.8,2.1],[30.85,2.0],[31.05,2.2],[31.1,2.0],[31.2,2.1],[31.25,2.7],[31.35,2.65],[31.45,2.4],[31.6,2.65],[31.75,2.7],[32.0,2.7],[31.9,1.6],[32.05,1.55],[32.6,2.3],[32.7,2.0],[30.5,2.85],[30.95,2.85],[30.1,1.05],[31.2,1.05],[31.2,0.55],[30.0,0.5],[29.5,0.15],[29.2,0.15],[30.55,0.1],[29.2,2.05],[31.35,1.85]
];

// ---------------- DRAW ----------------
const svg = d3.select("#chart");
const W = 850, H = 785;
const x = d3.scaleLinear().domain([0, cBounds[cBounds.length-1]]).range([105, 797.7]);
const y = d3.scaleLinear().domain([0, aBounds[aBounds.length-1]]).range([731.7, 43]);

const gridColor = "#c4c4c4";
const g = svg.append("g");

// vertical chromosome boundaries
g.selectAll("line.v").data(cBounds.slice(0, -1)).enter().append("line")
  .attr("x1", d => x(d)).attr("x2", d => x(d))
  .attr("y1", y.range()[1] - 5).attr("y2", y(0))
  .attr("stroke", gridColor).attr("stroke-width", 1.5);
// horizontal chromosome boundaries
g.selectAll("line.h").data(aBounds.slice(0, -1)).enter().append("line")
  .attr("x1", x(0)).attr("x2", x.range()[1])
  .attr("y1", d => y(d)).attr("y2", d => y(d))
  .attr("stroke", gridColor).attr("stroke-width", 1.5);

// dots
const allDots = [].concat(dotsA1, dotsA2, dotsA3, dotsA4, dotsA5, dotsA6, dotsA7, dotsA8, dotsA9, dotsA10);
g.selectAll("circle.dot").data(allDots).enter().append("circle")
  .attr("cx", d => x(d[0]*UNIT)).attr("cy", d => y(d[1]*UNIT))
  .attr("r", 1.0).attr("fill", "#3a3a3a");

// synteny blocks
g.selectAll("line.block").data(syntenyBlocks).enter().append("line")
  .attr("x1", d => x(d[0]*UNIT)).attr("y1", d => y(d[1]*UNIT))
  .attr("x2", d => x(d[2]*UNIT)).attr("y2", d => y(d[3]*UNIT))
  .attr("stroke", "#111").attr("stroke-width", 2).attr("stroke-linecap", "round");

const FONT = "Lato, 'Open Sans', sans-serif";
// axes
const xAxis = d3.axisBottom(x).tickValues(xTickValues).tickFormat((d,i) => xTickLabels[i]).tickSize(0).tickPadding(8);
const gx = svg.append("g").attr("transform", `translate(0,${y(0)})`).call(xAxis);
gx.select(".domain").remove();
gx.selectAll("text").attr("font-family", FONT).attr("font-size", 18).attr("fill", "#111");

const yAxis = d3.axisLeft(y).tickValues(yTickValues).tickFormat((d,i) => yTickLabels[i]).tickSize(0).tickPadding(7);
const gy = svg.append("g").attr("transform", `translate(${x(0)},0)`).call(yAxis);
gy.select(".domain").remove();
gy.selectAll("text").attr("font-family", FONT).attr("font-size", 18).attr("fill", "#111");

// column labels
svg.selectAll("text.clab").data(cChromosomes).enter().append("text")
  .attr("x", (d,i) => (x(cBounds[i]) + x(cBounds[i+1]))/2)
  .attr("y", 31.5).attr("text-anchor", "middle")
  .attr("font-family", FONT).attr("font-weight", "bold").attr("font-size", 20).attr("fill", "#111")
  .text(d => d);
// row labels
svg.selectAll("text.alab").data(aChromosomes).enter().append("text")
  .attr("x", 804)
  .attr("y", (d,i) => (y(aBounds[i]) + y(aBounds[i+1]))/2)
  .attr("dy", "0.35em")
  .attr("font-family", FONT).attr("font-weight", "bold").attr("font-size", 20).attr("fill", "#111")
  .text(d => d);

// axis titles
svg.append("text").attr("x", 449).attr("y", 782).attr("text-anchor", "middle")
  .attr("font-family", FONT).attr("font-weight", "bold").attr("font-size", 21).attr("fill", "#111")
  .text("C genome coordinate");
svg.append("text").attr("transform", "translate(32,390) rotate(-90)").attr("text-anchor", "middle")
  .attr("font-family", FONT).attr("font-weight", "bold").attr("font-size", 21).attr("fill", "#111")
  .text("A genome coordinate");
</script>
</body></html>
